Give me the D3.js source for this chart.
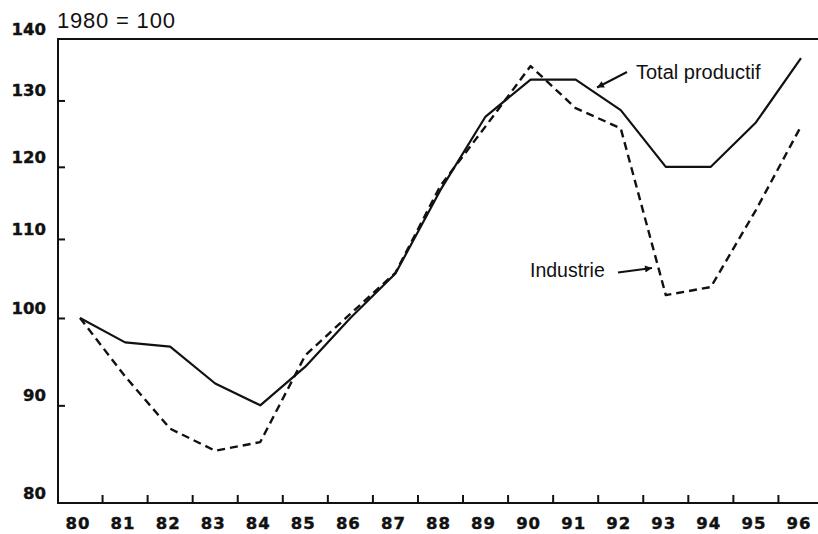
<!DOCTYPE html>
<html>
<head>
<meta charset="utf-8">
<script src="https://cdn.jsdelivr.net/npm/d3@7"></script>
<style>
  html, body { margin: 0; padding: 0; background: #fff; }
  svg { display: block; }
</style>
</head>
<body>
<svg id="chart" width="818" height="534"></svg>
<script>
const years = ["80","81","82","83","84","85","86","87","88","89","90","91","92","93","94","95","96"];
const totalProductif = [100, 97.1, 96.6, 92.4, 90.0, 94.3, 100, 105.5, 116.7, 127.5, 133.3, 133.3, 128.5, 120, 120, 126.6, 136.8];
const industrie = [100, 93.2, 87.5, 85.2, 86.1, 95.6, 100.5, 105.6, 117.3, 126, 135.5, 128.8, 125.7, 102.8, 103.8, 113.9, 126];
const yTickLabels = [80, 90, 100, 110, 120, 130, 140];
const yTickMarks = [90, 100, 110, 120, 130];
const titleText = "1980 = 100";
const labelTotal = "Total productif";
const labelIndustrie = "Industrie";

(function () {
const W = 818, H = 534;
const mLeft = 58, mTop = 39, mBottom = 503;
const svg = d3.select("#chart");

const x = d3.scaleBand().domain(years).range([57.5, 823.5]);
const y = d3.scaleLog().domain([80, 140]).range([mBottom, mTop]);
const cx = d => x(d) + x.bandwidth() / 2;

const ink = "#111";

// frame: left axis, top line, bottom axis
svg.append("path")
  .attr("d", `M${W},${mTop}H${mLeft}V${mBottom}H${W}`)
  .attr("fill", "none").attr("stroke", ink).attr("stroke-width", 2);

// y ticks (pointing inward)
const yAxis = d3.axisLeft(y).tickValues(yTickMarks).tickSize(-7).tickFormat("");
const gy = svg.append("g").attr("transform", `translate(${mLeft},0)`).call(yAxis);
gy.select(".domain").remove();
gy.selectAll(".tick line").attr("stroke", ink).attr("stroke-width", 2);

// y labels
svg.append("g").selectAll("text").data(yTickLabels).join("text")
  .attr("x", 46).attr("y", d => y(d) - 8.5)
  .attr("text-anchor", "end").attr("dominant-baseline", "middle")
  .attr("font-family", "DejaVu Sans").attr("font-weight", "bold").attr("font-size", 16.5)
  .attr("stroke", ink).attr("stroke-width", 0.4)
  .attr("fill", ink).text(d => d);

// x ticks at band boundaries
svg.append("g").selectAll("line").data(years.slice(1)).join("line")
  .attr("x1", d => x(d)).attr("x2", d => x(d))
  .attr("y1", mBottom).attr("y2", mBottom - 8)
  .attr("stroke", ink).attr("stroke-width", 2);

// x labels
svg.append("g").selectAll("text").data(years).join("text")
  .attr("x", d => cx(d) - 2).attr("y", 524)
  .attr("text-anchor", "middle").attr("dominant-baseline", "middle")
  .attr("font-family", "DejaVu Sans").attr("font-weight", "bold").attr("font-size", 16.5)
  .attr("stroke", ink).attr("stroke-width", 0.4)
  .attr("letter-spacing", 1)
  .attr("fill", ink).text(d => d);

// title
svg.append("text").attr("x", 57).attr("y", 28)
  .attr("font-family", "Liberation Sans").attr("font-size", 22)
  .attr("letter-spacing", 0.8)
  .attr("fill", ink).text(titleText);

// lines
const line = d3.line().x((d, i) => cx(years[i])).y(d => y(d));
svg.append("path").datum(industrie).attr("d", line)
  .attr("fill", "none").attr("stroke", ink).attr("stroke-width", 2.4)
  .attr("stroke-dasharray", "8,5").attr("stroke-linejoin", "round");
svg.append("path").datum(totalProductif).attr("d", line)
  .attr("fill", "none").attr("stroke", ink).attr("stroke-width", 2.2)
  .attr("stroke-linejoin", "round");

// arrow marker
svg.append("defs").append("marker")
  .attr("id", "arr").attr("viewBox", "0 0 10 10")
  .attr("refX", 10).attr("refY", 5)
  .attr("markerWidth", 11).attr("markerHeight", 7)
  .attr("markerUnits", "userSpaceOnUse")
  .attr("orient", "auto")
  .append("path").attr("d", "M0,0L10,5L0,10Z").attr("fill", ink);

// annotations
svg.append("text").attr("x", 636).attr("y", 79)
  .attr("font-family", "Liberation Sans").attr("font-size", 20)
  .attr("fill", ink).text(labelTotal);
svg.append("line").attr("x1", 627).attr("y1", 72).attr("x2", 597).attr("y2", 87.5)
  .attr("stroke", ink).attr("stroke-width", 2).attr("marker-end", "url(#arr)");

svg.append("text").attr("x", 530).attr("y", 277)
  .attr("font-family", "Liberation Sans").attr("font-size", 19.5)
  .attr("fill", ink).text(labelIndustrie);
svg.append("line").attr("x1", 618).attr("y1", 272.5).attr("x2", 652).attr("y2", 268)
  .attr("stroke", ink).attr("stroke-width", 2).attr("marker-end", "url(#arr)");
})();
</script>
</body>
</html>
